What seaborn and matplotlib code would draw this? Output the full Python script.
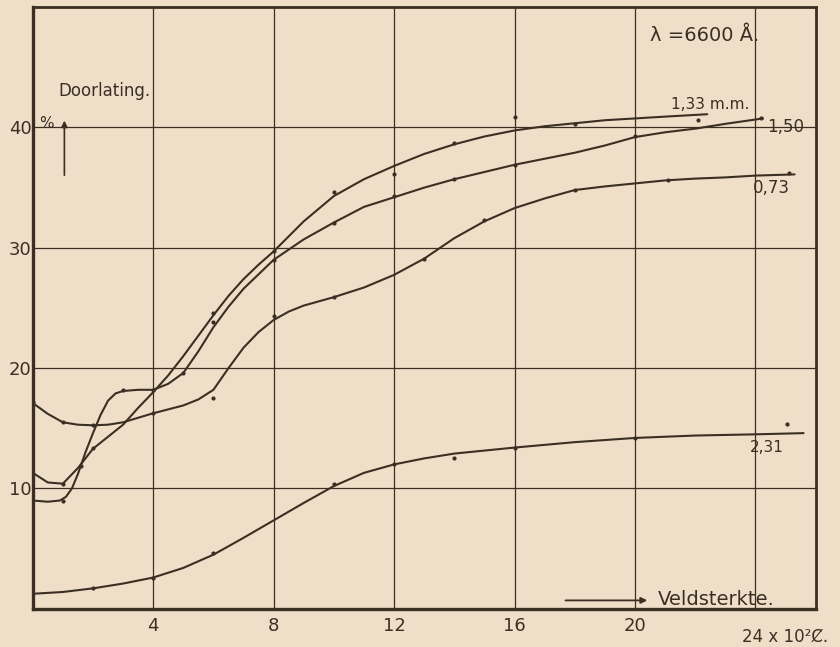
import pandas as pd
import matplotlib.pyplot as plt
import seaborn as sns

# Transmission ("Doorlating") vs field strength, lambda = 6600 A, four plate thicknesses
c133_x = [0, 0.5, 1, 1.5, 2, 2.5, 3, 3.5, 4, 4.5, 5, 5.5, 6, 6.5, 7, 7.5, 8, 9, 10, 11, 12,
          13, 14, 15, 16, 17, 18, 19, 20, 21, 22.4]
c133_y = [11.3, 10.5, 10.4, 11.7, 13.3, 14.3, 15.3, 16.7, 18.0, 19.4, 21.0, 22.7, 24.4, 26.0,
          27.4, 28.6, 29.7, 32.2, 34.3, 35.7, 36.8, 37.8, 38.6, 39.25, 39.75, 40.1, 40.35, 40.6,
          40.75, 40.9, 41.1]

c150_x = [0, 0.5, 0.9, 1.1, 1.3, 1.5, 1.75, 2, 2.25, 2.5, 2.75, 3, 3.5, 4, 4.5, 5, 5.5, 6, 6.5,
          7, 7.5, 8, 9, 10, 11, 12, 13, 14, 15, 16, 17, 18, 19, 20, 21, 22, 23, 24.25]
c150_y = [9.0, 8.9, 9.0, 9.3, 10.0, 11.2, 13.0, 14.6, 16.1, 17.3, 17.9, 18.1, 18.2, 18.2, 18.7,
          19.6, 21.4, 23.4, 25.1, 26.6, 27.8, 29.0, 30.7, 32.1, 33.4, 34.2, 35.0, 35.7, 36.3,
          36.9, 37.4, 37.9, 38.5, 39.2, 39.6, 39.9, 40.3, 40.75]

c073_x = [0, 0.5, 1, 1.5, 2, 2.5, 3, 4, 5, 5.5, 6, 6.5, 7, 7.5, 8, 8.5, 9, 10, 11, 12, 13, 14,
          15, 16, 17, 18, 19, 20, 21, 22, 23, 24, 25.3]
c073_y = [17.1, 16.2, 15.5, 15.3, 15.25, 15.3, 15.5, 16.25, 16.9, 17.4, 18.2, 20.0, 21.7, 23.0,
          24.0, 24.7, 25.2, 25.9, 26.7, 27.75, 29.1, 30.8, 32.2, 33.3, 34.1, 34.8, 35.1, 35.35,
          35.6, 35.75, 35.85, 36.0, 36.1]

c231_x = [0, 1, 2, 3, 4, 5, 6, 7, 8, 9, 10, 11, 12, 13, 14, 16, 18, 20, 22, 24, 25.6]
c231_y = [1.25, 1.4, 1.7, 2.1, 2.6, 3.4, 4.5, 5.9, 7.35, 8.8, 10.2, 11.3, 12.0, 12.5, 12.9,
          13.4, 13.85, 14.2, 14.4, 14.5, 14.6]

# measured points
p133_x = [1, 2, 6, 8, 10, 12, 14, 16, 18, 22.1]
p133_y = [10.4, 13.4, 24.6, 29.7, 34.6, 36.1, 38.7, 40.9, 40.3, 40.6]
p150_x = [1, 1.6, 3, 4, 5, 6, 8, 10, 12, 14, 16, 20, 24.2]
p150_y = [9.0, 11.9, 18.2, 18.2, 19.6, 23.8, 29.0, 32.1, 34.3, 35.7, 36.9, 39.25, 40.75]
p073_x = [0, 1, 2, 4, 6, 8, 10, 13, 15, 18, 21.1, 25.1]
p073_y = [17.2, 15.5, 15.3, 16.3, 17.5, 24.3, 25.9, 29.1, 32.3, 34.8, 35.6, 36.2]
p231_x = [2, 4, 6, 10, 12, 14, 16, 20, 25.05]
p231_y = [1.7, 2.6, 4.6, 10.4, 12.0, 12.5, 13.4, 14.2, 15.4]

curve_labels = ["1,33 m.m.", "1,50", "0,73", "2,31"]
x_ticks = [4, 8, 12, 16, 20, 24]
x_tick_labels = ["4", "8", "12", "16", "20", ""]
y_ticks = [10, 20, 30, 40]

paper = "#efdfc9"
ink = "#3b2f24"

sns.set_theme(style="white")
plt.rcParams['font.family'] = ['DejaVu Sans']

curves = pd.concat([
    pd.DataFrame({'x': c133_x, 'y': c133_y, 'curve': curve_labels[0]}),
    pd.DataFrame({'x': c150_x, 'y': c150_y, 'curve': curve_labels[1]}),
    pd.DataFrame({'x': c073_x, 'y': c073_y, 'curve': curve_labels[2]}),
    pd.DataFrame({'x': c231_x, 'y': c231_y, 'curve': curve_labels[3]}),
])
points = pd.concat([
    pd.DataFrame({'x': p133_x, 'y': p133_y, 'curve': curve_labels[0]}),
    pd.DataFrame({'x': p150_x, 'y': p150_y, 'curve': curve_labels[1]}),
    pd.DataFrame({'x': p073_x, 'y': p073_y, 'curve': curve_labels[2]}),
    pd.DataFrame({'x': p231_x, 'y': p231_y, 'curve': curve_labels[3]}),
])

fig = plt.figure(figsize=(8.4, 6.47), dpi=100, facecolor=paper)
ax = fig.add_axes([0.039, 0.059, 0.932, 0.93])
ax.set_facecolor(paper)

sns.lineplot(data=curves, x='x', y='y', units='curve', estimator=None, sort=False,
             color=ink, lw=1.5, ax=ax)
sns.scatterplot(data=points, x='x', y='y', color=ink, s=9, linewidth=0, ax=ax)

ax.set_xlim(0, 26)
ax.set_ylim(0, 50)
ax.set_xticks(x_ticks)
ax.set_xticklabels(x_tick_labels)
ax.set_yticks(y_ticks)
ax.grid(True, color=ink, lw=0.9)
ax.tick_params(length=0, labelsize=13, labelcolor=ink)
ax.tick_params(axis='x', pad=6)
ax.tick_params(axis='y', pad=1)
ax.set_xlabel('')
ax.set_ylabel('')
for side, lw in [('left', 2.4), ('bottom', 2.4), ('top', 2.0), ('right', 2.0)]:
    ax.spines[side].set_visible(True)
    ax.spines[side].set_color(ink)
    ax.spines[side].set_linewidth(lw)

# annotations
ax.text(23.55, -1.6, "24 x 10²Ȼ.", fontsize=12, color=ink, ha='left', va='top',
        clip_on=False)
ax.text(0.85, 43.0, "Doorlating.", fontsize=12, color=ink, va='center')
ax.text(0.2, 40.3, "%", fontsize=11, color=ink, va='center')
ax.annotate("", xy=(1.05, 40.8), xytext=(1.05, 35.8),
            arrowprops=dict(arrowstyle='-|>', color=ink, lw=1.2, mutation_scale=9))
ax.text(20.5, 47.6, "λ =6600 Å.", fontsize=14, color=ink, va='center')
ax.annotate("", xy=(20.5, 0.7), xytext=(17.6, 0.7),
            arrowprops=dict(arrowstyle='-|>', color=ink, lw=1.3, mutation_scale=9))
ax.text(20.75, 0.75, "Veldsterkte.", fontsize=14, color=ink, va='center')

ax.text(21.2, 41.9, curve_labels[0], fontsize=11, color=ink, va='center')
ax.text(24.4, 40.0, curve_labels[1], fontsize=12, color=ink, va='center')
ax.text(23.9, 35.0, curve_labels[2], fontsize=12, color=ink, va='center')
ax.text(23.8, 13.4, curve_labels[3], fontsize=11, color=ink, va='center')

plt.savefig('out.png', dpi=100, facecolor=paper)
